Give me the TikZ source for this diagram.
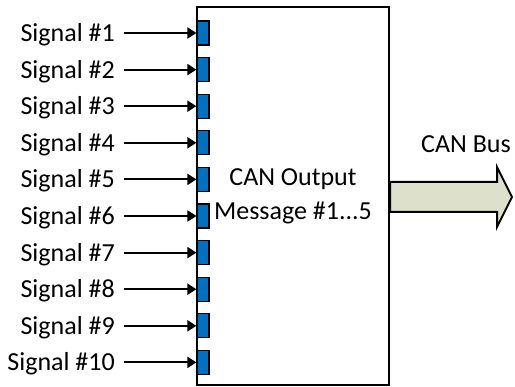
\documentclass[tikz,border=0pt]{standalone}
\usepackage{fontspec}
\setmainfont{Carlito}
\usetikzlibrary{arrows.meta}

\definecolor{portblue}{RGB}{0,112,192}
\definecolor{busfill}{RGB}{221,225,204}

\tikzset{
    sigtext/.style={anchor=east, inner sep=0pt, text height=17pt, text depth=0pt,
        font=\fontsize{26}{34}\selectfont},
    sigport/.style={draw=black, line width=1.2pt, fill=portblue, inner sep=0pt,
        minimum width=12pt, minimum height=24pt},
    sigline/.style={line width=2pt, shorten <=9pt, -{Triangle[length=9pt,width=11pt]}},
    ecubox/.style={draw=black, line width=2pt, inner sep=0pt, align=center,
        minimum width=192pt, minimum height=378pt, font=\fontsize{26}{34}\selectfont},
    busarrow/.style={draw=black, line width=2pt, fill=busfill, line join=miter}
}

\begin{document}
\begin{tikzpicture}[x=1pt, y=-1pt]
    \useasboundingbox (0,0) rectangle (515,387);

    \node[ecubox] (ecu) at (293,196) {CAN Output\\Message \#1...5};

    \node[sigport] (p1) at (203,33) {};
    \node[sigport] (p2) at (203,69.6) {};
    \node[sigport] (p3) at (203,106.2) {};
    \node[sigport] (p4) at (203,142.8) {};
    \node[sigport] (p5) at (203,179.4) {};
    \node[sigport] (p6) at (203,216) {};
    \node[sigport] (p7) at (203,252.6) {};
    \node[sigport] (p8) at (203,289.2) {};
    \node[sigport] (p9) at (203,325.8) {};
    \node[sigport] (p10) at (203,362.4) {};

    \node[sigtext] (s1) at (115,33) {Signal \#1};
    \node[sigtext] (s2) at (115,69.6) {Signal \#2};
    \node[sigtext] (s3) at (115,106.2) {Signal \#3};
    \node[sigtext] (s4) at (115,142.8) {Signal \#4};
    \node[sigtext] (s5) at (115,179.4) {Signal \#5};
    \node[sigtext] (s6) at (115,216) {Signal \#6};
    \node[sigtext] (s7) at (115,252.6) {Signal \#7};
    \node[sigtext] (s8) at (115,289.2) {Signal \#8};
    \node[sigtext] (s9) at (115,325.8) {Signal \#9};
    \node[sigtext] (s10) at (115,362.4) {Signal \#10};

    \draw[sigline] (s1) -- (p1);
    \draw[sigline] (s2) -- (p2);
    \draw[sigline] (s3) -- (p3);
    \draw[sigline] (s4) -- (p4);
    \draw[sigline] (s5) -- (p5);
    \draw[sigline] (s6) -- (p6);
    \draw[sigline] (s7) -- (p7);
    \draw[sigline] (s8) -- (p8);
    \draw[sigline] (s9) -- (p9);
    \draw[sigline] (s10) -- (p10);

    % bus arrow leaving the box
    \coordinate (bustip) at (512,197);
    \draw[busarrow] (ecu.east |- 0,182) -- (497,182) -- (497,167) -- (bustip)
        -- (497,227) -- (497,212) -- (ecu.east |- 0,212) -- cycle;
    \node[anchor=base, inner sep=0pt, font=\fontsize{26}{34}\selectfont] (bus) at (466,153) {CAN Bus};
\end{tikzpicture}
\end{document}
